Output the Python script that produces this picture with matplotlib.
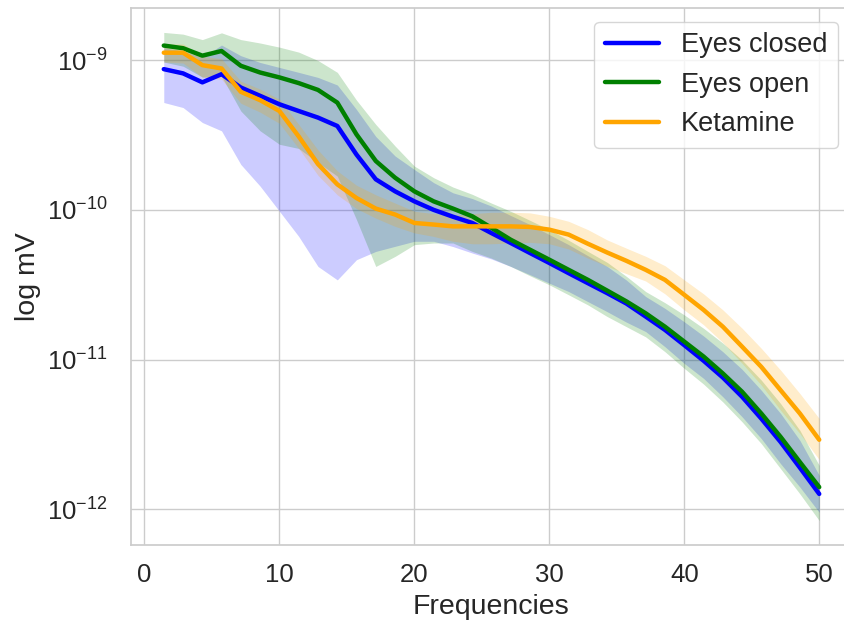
import matplotlib
matplotlib.use("Agg")
import matplotlib.pyplot as plt
import seaborn as sns

# Welch PSD frequency bins (Hz)
freqs = [1.43, 2.86, 4.29, 5.71, 7.14, 8.57, 10.0, 11.43, 12.86, 14.29,
         15.71, 17.14, 18.57, 20.0, 21.43, 22.86, 24.29, 25.71, 27.14, 28.57,
         30.0, 31.43, 32.86, 34.29, 35.71, 37.14, 38.57, 40.0, 41.43, 42.86,
         44.29, 45.71, 47.14, 48.57, 50.0]

# eyes closed: mean power and confidence band
closed_mean = [8.7e-10, 8.15e-10, 7.1e-10, 8.05e-10, 6.56e-10, 5.77e-10, 5.07e-10, 4.57e-10, 4.13e-10, 3.63e-10,
               2.34e-10, 1.60e-10, 1.33e-10, 1.14e-10, 1.00e-10, 9.0e-11, 8.18e-11, 7.0e-11, 6.01e-11, 5.15e-11,
               4.42e-11, 3.78e-11, 3.24e-11, 2.78e-11, 2.37e-11, 1.94e-11, 1.58e-11, 1.25e-11, 9.84e-12, 7.60e-12,
               5.65e-12, 4.04e-12, 2.82e-12, 1.90e-12, 1.27e-12]
closed_low = [5.21e-10, 4.82e-10, 3.83e-10, 3.37e-10, 2.01e-10, 1.44e-10, 9.79e-11, 6.65e-11, 4.19e-11, 3.41e-11,
              4.65e-11, 5.28e-11, 5.71e-11, 6.17e-11, 6.17e-11, 5.69e-11, 5.15e-11, 4.70e-11, 4.19e-11, 3.69e-11,
              3.24e-11, 2.85e-11, 2.44e-11, 2.09e-11, 1.78e-11, 1.54e-11, 1.22e-11, 9.44e-12, 7.50e-12, 5.65e-12,
              4.15e-12, 2.97e-12, 2.02e-12, 1.41e-12, 9.57e-13]
closed_high = [1.21e-9, 1.15e-9, 1.04e-9, 1.26e-9, 1.07e-9, 9.64e-10, 8.93e-10, 8.28e-10, 7.66e-10, 6.82e-10,
               4.68e-10, 3.09e-10, 2.29e-10, 1.86e-10, 1.52e-10, 1.30e-10, 1.19e-10, 1.06e-10, 9.17e-11, 7.98e-11,
               6.84e-11, 5.86e-11, 4.94e-11, 4.19e-11, 3.40e-11, 2.64e-11, 2.20e-11, 1.79e-11, 1.44e-11, 1.13e-11,
               8.61e-12, 6.25e-12, 4.37e-12, 2.89e-12, 1.69e-12]

# eyes open
open_mean = [1.25e-9, 1.20e-9, 1.07e-9, 1.15e-9, 9.16e-10, 8.26e-10, 7.66e-10, 7.02e-10, 6.32e-10, 5.20e-10,
             3.19e-10, 2.12e-10, 1.64e-10, 1.33e-10, 1.14e-10, 1.02e-10, 9.06e-11, 7.59e-11, 6.32e-11, 5.42e-11,
             4.65e-11, 3.98e-11, 3.41e-11, 2.89e-11, 2.45e-11, 2.04e-11, 1.66e-11, 1.32e-11, 1.05e-11, 8.09e-12,
             6.10e-12, 4.37e-12, 3.05e-12, 2.07e-12, 1.41e-12]
open_low = [9.7e-10, 9.1e-10, 7.7e-10, 7.8e-10, 4.57e-10, 3.37e-10, 2.74e-10, 2.57e-10, 2.07e-10, 1.68e-10,
            8.61e-11, 4.19e-11, 4.89e-11, 5.86e-11, 6.01e-11, 6.01e-11, 5.28e-11, 4.76e-11, 4.19e-11, 3.63e-11,
            3.16e-11, 2.71e-11, 2.32e-11, 1.94e-11, 1.66e-11, 1.42e-11, 1.13e-11, 8.75e-12, 6.87e-12, 5.22e-12,
            3.84e-12, 2.75e-12, 1.87e-12, 1.27e-12, 8.43e-13]
open_high = [1.53e-9, 1.49e-9, 1.37e-9, 1.52e-9, 1.37e-9, 1.30e-9, 1.22e-9, 1.13e-9, 9.93e-10, 8.28e-10,
             5.40e-10, 3.72e-10, 2.67e-10, 1.96e-10, 1.64e-10, 1.42e-10, 1.27e-10, 1.11e-10, 9.79e-11, 8.51e-11,
             7.38e-11, 6.27e-11, 5.28e-11, 4.46e-11, 3.60e-11, 2.85e-11, 2.40e-11, 1.99e-11, 1.62e-11, 1.29e-11,
             9.93e-12, 7.30e-12, 5.09e-12, 3.37e-12, 1.97e-12]

# ketamine
ket_mean = [1.12e-9, 1.12e-9, 9.25e-10, 8.79e-10, 6.14e-10, 5.40e-10, 4.57e-10, 3.09e-10, 2.02e-10, 1.48e-10,
            1.20e-10, 1.02e-10, 9.31e-11, 8.18e-11, 7.98e-11, 7.76e-11, 7.76e-11, 7.76e-11, 7.76e-11, 7.69e-11,
            7.38e-11, 6.84e-11, 5.94e-11, 5.19e-11, 4.57e-11, 3.98e-11, 3.41e-11, 2.71e-11, 2.15e-11, 1.66e-11,
            1.22e-11, 8.95e-12, 6.25e-12, 4.37e-12, 2.92e-12]
ket_low = [9.70e-10, 9.55e-10, 7.69e-10, 7.46e-10, 5.15e-10, 4.49e-10, 3.78e-10, 2.57e-10, 1.70e-10, 1.26e-10,
           1.02e-10, 8.81e-11, 7.76e-11, 7.02e-11, 6.65e-11, 6.17e-11, 5.94e-11, 5.94e-11, 6.01e-11, 6.07e-11,
           5.94e-11, 5.48e-11, 4.76e-11, 4.20e-11, 3.75e-11, 3.35e-11, 2.75e-11, 2.15e-11, 1.71e-11, 1.30e-11,
           9.44e-12, 6.76e-12, 4.59e-12, 3.21e-12, 2.15e-12]
ket_high = [1.28e-9, 1.28e-9, 1.06e-9, 1.02e-9, 7.23e-10, 6.40e-10, 5.48e-10, 3.72e-10, 2.51e-10, 1.82e-10,
            1.46e-10, 1.26e-10, 1.11e-10, 9.79e-11, 9.44e-11, 9.23e-11, 9.44e-11, 9.64e-11, 9.64e-11, 9.55e-11,
            9.06e-11, 8.39e-11, 7.38e-11, 6.30e-11, 5.55e-11, 4.90e-11, 4.24e-11, 3.41e-11, 2.75e-11, 2.15e-11,
            1.62e-11, 1.19e-11, 8.51e-12, 5.94e-12, 4.05e-12]

sns.set_theme(style="whitegrid")
plt.rcParams['font.family'] = ['Liberation Sans', 'DejaVu Sans']

fig = plt.figure(figsize=(8.45, 6.24), dpi=100)
ax = fig.add_axes([131 / 845, 79 / 624, 721 / 845, 537 / 624])

conditions = [
    ("Eyes closed", "blue", closed_mean, closed_low, closed_high),
    ("Eyes open", "green", open_mean, open_low, open_high),
    ("Ketamine", "orange", ket_mean, ket_low, ket_high),
]
for label, color, mean, low, high in conditions:
    ax.plot(freqs, mean, color=color, linewidth=3.2, label=label)
    ax.fill_between(freqs, low, high, color=color, alpha=0.2, linewidth=0)

ax.set_yscale('log')
ax.set_xlabel('Frequencies', fontsize=20.5, labelpad=5)
ax.set_ylabel('log mV', fontsize=20.5, labelpad=4)
ax.tick_params(axis='x', labelsize=18.5, pad=7)
ax.tick_params(axis='y', labelsize=18.5, pad=11)
ax.minorticks_off()

ax.legend(loc='upper right', fontsize=19.5, handlelength=2.0)

plt.savefig('out.png', dpi=100)
